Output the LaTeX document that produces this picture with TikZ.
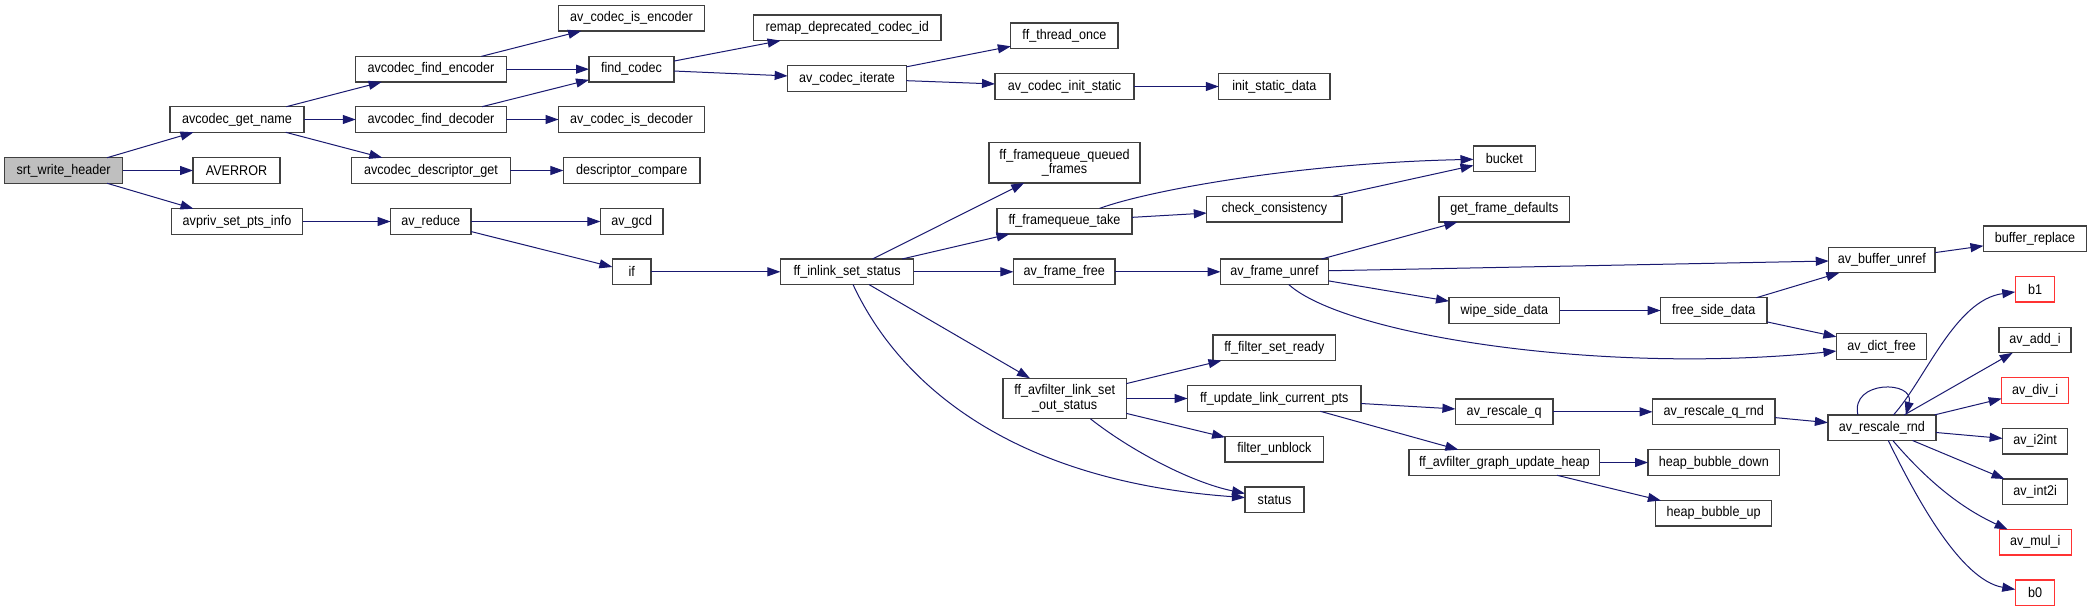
\documentclass[tikz,border=0pt]{standalone}
\usepackage{fontspec}
\setmainfont[FakeStretch=0.9]{Liberation Sans}
\usetikzlibrary{arrows.meta}
\definecolor{edgecol}{HTML}{191970}
\definecolor{boxcol}{HTML}{404040}
\definecolor{redcol}{HTML}{FF3333}
\definecolor{rootfill}{HTML}{BFBFBF}
\tikzset{
  fn/.style={draw=boxcol, line width=1.3pt, fill=white, rectangle, inner sep=0pt, outer sep=0pt,
     minimum height=25.6pt, font=\fontsize{14}{14.5}\selectfont, align=center, text=black},
  fntwo/.style={fn, minimum height=40.5pt},
  fnred/.style={fn, draw=redcol},
  fnroot/.style={fn, fill=rootfill},
  edge/.style={draw=edgecol, line width=1pt, -{Triangle[length=13pt,width=9pt]}}
}
\begin{document}
\begin{tikzpicture}[x=1pt,y=-1pt]
\fill[white] (0,0) rectangle (2092,612);
\useasboundingbox (0,0) rectangle (2092,612);
% column 1
\node[fnroot, minimum width=118.3pt] (srt) at (63.6,170.5) {srt\_write\_header};
% column 2
\node[fn, minimum width=134pt] (getname) at (237,119.5) {avcodec\_get\_name};
\node[fn, minimum width=87pt] (averror) at (236.5,170.5) {AVERROR};
\node[fn, minimum width=131.3pt] (ptsinfo) at (237,221.5) {avpriv\_set\_pts\_info};
% column 3
\node[fn, minimum width=150.5pt] (findenc) at (431,69.2) {avcodec\_find\_encoder};
\node[fn, minimum width=150.5pt] (finddec) at (431,119.5) {avcodec\_find\_decoder};
\node[fn, minimum width=158.5pt] (descget) at (431,170.5) {avcodec\_descriptor\_get};
\node[fn, minimum width=80.4pt] (reduce) at (430.8,221.5) {av\_reduce};
% column 4
\node[fn, minimum width=146pt] (isenc) at (631.5,18.2) {av\_codec\_is\_encoder};
\node[fn, minimum width=85pt] (findcodec) at (631.5,69.2) {find\_codec};
\node[fn, minimum width=146pt] (isdec) at (631.5,119.5) {av\_codec\_is\_decoder};
\node[fn, minimum width=136.6pt] (desccmp) at (631.7,170.5) {descriptor\_compare};
\node[fn, minimum width=62.6pt] (gcd) at (631.7,221.5) {av\_gcd};
\node[fn, minimum width=38.5pt] (if) at (631.7,271.8) {if};
% column 5
\node[fn, minimum width=187.3pt] (remap) at (847.3,27.8) {remap\_deprecated\_codec\_id};
\node[fn, minimum width=118.7pt] (iterate) at (847,78.5) {av\_codec\_iterate};
\node[fn, minimum width=133.4pt] (inlink) at (847.1,271.8) {ff\_inlink\_set\_status};
% column 6
\node[fn, minimum width=107.2pt] (threadonce) at (1064.4,35.8) {ff\_thread\_once};
\node[fn, minimum width=139pt] (initstatic) at (1064.5,86.5) {av\_codec\_init\_static};
\node[fntwo, minimum width=151pt] (queued) at (1064.5,162.7) {ff\_framequeue\_queued\\\_frames};
\node[fn, minimum width=135pt] (fqtake) at (1064.5,221.2) {ff\_framequeue\_take};
\node[fn, minimum width=101.6pt] (framefree) at (1064.2,271.8) {av\_frame\_free};
\node[fntwo, minimum width=123.3pt] (outstatus) at (1064.7,398.5) {ff\_avfilter\_link\_set\\\_out\_status};
% column 7
\node[fn, minimum width=111.2pt] (initdata) at (1274.4,86.5) {init\_static\_data};
\node[fn, minimum width=135.2pt] (checkcons) at (1274.4,209.2) {check\_consistency};
\node[fn, minimum width=108pt] (frameunref) at (1274.5,271.8) {av\_frame\_unref};
\node[fn, minimum width=122.7pt] (setready) at (1274.4,347.8) {ff\_filter\_set\_ready};
\node[fn, minimum width=173.5pt] (updpts) at (1274.3,398.5) {ff\_update\_link\_current\_pts};
\node[fn, minimum width=98.7pt] (unblock) at (1274.4,449.2) {filter\_unblock};
\node[fn, minimum width=59pt] (status) at (1274.5,499.7) {status};
% column 8
\node[fn, minimum width=61.8pt] (bucket) at (1504.4,158.7) {bucket};
\node[fn, minimum width=130.8pt] (getdef) at (1504.4,209.3) {get\_frame\_defaults};
\node[fn, minimum width=110.8pt] (wipe) at (1504.4,310.5) {wipe\_side\_data};
\node[fn, minimum width=97.6pt] (rescaleq) at (1504.2,411.8) {av\_rescale\_q};
\node[fn, minimum width=190.8pt] (heap) at (1504.4,462.5) {ff\_avfilter\_graph\_update\_heap};
% column 9
\node[fn, minimum width=106.4pt] (freeside) at (1713.8,310.5) {free\_side\_data};
\node[fn, minimum width=122.5pt] (rescaleqrnd) at (1713.8,411.8) {av\_rescale\_q\_rnd};
\node[fn, minimum width=131.6pt] (bubdown) at (1713.8,462.5) {heap\_bubble\_down};
\node[fn, minimum width=115.8pt] (bubup) at (1713.6,513.3) {heap\_bubble\_up};
% column 10
\node[fn, minimum width=106.3pt] (bufunref) at (1881.9,260) {av\_buffer\_unref};
\node[fn, minimum width=90.4pt] (dictfree) at (1881.6,346.5) {av\_dict\_free};
\node[fn, minimum width=108.1pt] (rescalernd) at (1881.9,427.7) {av\_rescale\_rnd};
% column 11
\node[fn, minimum width=103.1pt] (bufrepl) at (2035,238.7) {buffer\_replace};
\node[fnred, minimum width=39.5pt] (bone) at (2035,289.3) {b1};
\node[fn, minimum width=72pt] (addi) at (2035,340) {av\_add\_i};
\node[fnred, minimum width=66.8pt] (divi) at (2035.1,390.5) {av\_div\_i};
\node[fn, minimum width=65pt] (itoint) at (2035.1,441.3) {av\_i2int};
\node[fn, minimum width=65pt] (inttoi) at (2035.1,491.8) {av\_int2i};
\node[fnred, minimum width=71.8pt] (muli) at (2035.3,542.3) {av\_mul\_i};
\node[fnred, minimum width=39.5pt] (bzero) at (2035,592.8) {b0};
% edges
\draw[edge] (srt) -- (getname);
\draw[edge] (srt) -- (averror);
\draw[edge] (srt) -- (ptsinfo);
\draw[edge] (getname) -- (findenc);
\draw[edge] (getname) -- (finddec);
\draw[edge] (getname) -- (descget);
\draw[edge] (findenc) -- (isenc);
\draw[edge] (findenc) -- (findcodec);
\draw[edge] (finddec) -- (findcodec);
\draw[edge] (finddec) -- (isdec);
\draw[edge] (descget) -- (desccmp);
\draw[edge] (findcodec) -- (remap);
\draw[edge] (findcodec) -- (iterate);
\draw[edge] (iterate) -- (threadonce);
\draw[edge] (iterate) -- (initstatic);
\draw[edge] (initstatic) -- (initdata);
\draw[edge] (ptsinfo) -- (reduce);
\draw[edge] (reduce) -- (gcd);
\draw[edge] (reduce) -- (if);
\draw[edge] (if) -- (inlink);
\draw[edge] (inlink) -- (queued);
\draw[edge] (inlink) -- (fqtake);
\draw[edge] (inlink) -- (framefree);
\draw[edge] (inlink) -- (outstatus);
\draw[edge] (inlink) .. controls (895,375) and (1000,480) .. (status);
\draw[edge] (fqtake) .. controls (1150,190) and (1300,163) .. (bucket);
\draw[edge] (fqtake) -- (checkcons);
\draw[edge] (checkcons) -- (bucket);
\draw[edge] (framefree) -- (frameunref);
\draw[edge] (frameunref) -- (getdef);
\draw[edge] (frameunref) -- (bufunref);
\draw[edge] (frameunref) -- (wipe);
\draw[edge] (frameunref) .. controls (1345,335) and (1600,375) .. (dictfree);
\draw[edge] (wipe) -- (freeside);
\draw[edge] (freeside) -- (bufunref);
\draw[edge] (freeside) -- (dictfree);
\draw[edge] (bufunref) -- (bufrepl);
\draw[edge] (outstatus) -- (setready);
\draw[edge] (outstatus) -- (updpts);
\draw[edge] (outstatus) -- (unblock);
\draw[edge] (outstatus) .. controls (1130,450) and (1190,482) .. (status);
\draw[edge] (updpts) -- (rescaleq);
\draw[edge] (updpts) -- (heap);
\draw[edge] (rescaleq) -- (rescaleqrnd);
\draw[edge] (rescaleqrnd) -- (rescalernd);
\draw[edge] (heap) -- (bubdown);
\draw[edge] (heap) -- (bubup);
\draw[edge] ([xshift=-24pt]rescalernd.north) .. controls (1850,380) and (1915,380) .. ([xshift=24pt]rescalernd.north);
\draw[edge] (rescalernd) .. controls (1925,380) and (1955,300) .. (bone);
\draw[edge] (rescalernd) -- (addi);
\draw[edge] (rescalernd) -- (divi);
\draw[edge] (rescalernd) -- (itoint);
\draw[edge] (rescalernd) -- (inttoi);
\draw[edge] (rescalernd) .. controls (1935,490) and (1970,512) .. (muli);
\draw[edge] (rescalernd) .. controls (1915,495) and (1960,580) .. (bzero);
\end{tikzpicture}
\end{document}
